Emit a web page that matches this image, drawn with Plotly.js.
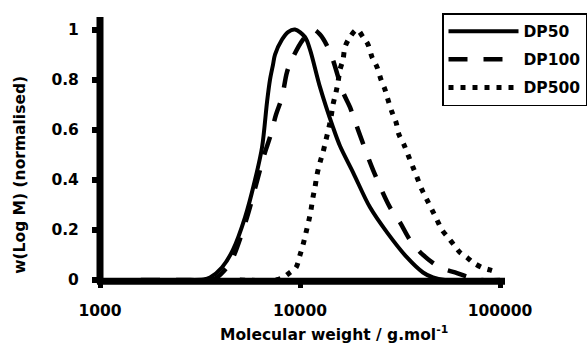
<!DOCTYPE html>
<html>
<head>
<meta charset="utf-8">
<script src="https://cdn.plot.ly/plotly-3.0.1.min.js"></script>
<style>html,body{margin:0;padding:0;background:#fff;}#chart{width:587px;height:343px;}</style>
</head>
<body>
<div id="chart"></div>
<script>
// DP50 (solid)
const dp50_M = [1600, 2500, 3300, 3550, 4070, 4620, 5310, 5960, 6460, 6840, 7080, 7330, 7500, 8130, 8710, 9440, 10590, 11220, 12590, 14620, 15850, 18410, 22390, 27230, 34280, 41210, 46240, 53090, 70000, 100000];
const dp50_w = [0, 0, 0.002, 0.01, 0.05, 0.12, 0.25, 0.40, 0.53, 0.71, 0.80, 0.86, 0.90, 0.96, 0.99, 1.0, 0.97, 0.92, 0.77, 0.61, 0.535, 0.43, 0.29, 0.19, 0.09, 0.03, 0.01, 0, 0, 0];
// DP100 (dashed)
const dp100_M = [1600, 2500, 3500, 3760, 4315, 4624, 5433, 6166, 6683, 7079, 7586, 8128, 8610, 9226, 10350, 11610, 12590, 14130, 16410, 17780, 19500, 23170, 28180, 31620, 35480, 41210, 50120, 59570, 70790, 80000, 100000];
const dp100_w = [0, 0, 0, 0.005, 0.05, 0.09, 0.25, 0.41, 0.51, 0.57, 0.66, 0.73, 0.83, 0.89, 0.96, 1.0, 0.98, 0.91, 0.75, 0.69, 0.60, 0.44, 0.29, 0.23, 0.16, 0.10, 0.05, 0.03, 0.01, 0, 0];
// DP500 (dotted)
const dp500_M = [5000, 7500, 8220, 8910, 9550, 10000, 10350, 10720, 11090, 11350, 11610, 11885, 12160, 12590, 13030, 13490, 13960, 14290, 14620, 15140, 15490, 15850, 16410, 16790, 17780, 19280, 20650, 21880, 22910, 24270, 25410, 26610, 27540, 28840, 30200, 31260, 33110, 34670, 36730, 38460, 40740, 43150, 45710, 48420, 51290, 54950, 58880, 63100, 68390, 73280, 81280, 89130, 97720];
const dp500_w = [0, 0, 0.01, 0.03, 0.05, 0.10, 0.14, 0.19, 0.24, 0.28, 0.33, 0.37, 0.42, 0.47, 0.51, 0.56, 0.61, 0.65, 0.70, 0.75, 0.79, 0.84, 0.88, 0.93, 0.97, 1.0, 0.97, 0.94, 0.89, 0.85, 0.80, 0.76, 0.72, 0.67, 0.63, 0.58, 0.54, 0.50, 0.45, 0.41, 0.36, 0.32, 0.28, 0.24, 0.20, 0.17, 0.14, 0.11, 0.09, 0.07, 0.05, 0.04, 0.03];

const seriesNames = ['DP50', 'DP100', 'DP500'];
const xTickVals = [1000, 10000, 100000];
const xTickText = ['1000', '10000', '100000'];
const yTickVals = [0, 0.2, 0.4, 0.6, 0.8, 1];
const yTickText = ['0', '0.2', '0.4', '0.6', '0.8', '1'];

const FONT = 'DejaVu Sans, sans-serif';
const FS = 15.5;
const BOLD = {family: FONT, size: FS, color: '#000', weight: 'bold'};

const mk = (x, y, name, dash, width) => ({
  x: x, y: y, name: name, type: 'scatter', mode: 'lines',
  line: {color: '#000', width: width, dash: dash, shape: 'spline', smoothing: 0.9},
  legendgroup: name
});

const data = [
  mk(dp50_M, dp50_w, seriesNames[0], 'solid', 4),
  mk(dp100_M, dp100_w, seriesNames[1], '19px,16px', 4.5),
  mk(dp500_M, dp500_w, seriesNames[2], '5px,7px', 5)
];

const layout = {
  width: 587, height: 343,
  margin: {l: 100, r: 87, t: 17, b: 63, autoexpand: false},
  paper_bgcolor: '#fff', plot_bgcolor: '#fff',
  font: BOLD,
  showlegend: true,
  legend: {
    x: 0.855, y: 1.015, xanchor: 'left', yanchor: 'top',
    bordercolor: '#000', borderwidth: 1.5, bgcolor: '#fff',
    font: BOLD,
    itemwidth: 70, traceorder: 'grouped', tracegroupgap: 5
  },
  xaxis: {
    type: 'log', range: [3, 5],
    tickvals: xTickVals, ticktext: xTickText,
    showgrid: false, zeroline: false, showline: false,
    ticks: 'outside', ticklen: 7, tickwidth: 5, tickcolor: '#000',
    ticklabelstandoff: 9,
    tickfont: BOLD
  },
  yaxis: {
    range: [0, 1.05],
    tickvals: yTickVals, ticktext: yTickText,
    showgrid: false, zeroline: false, showline: false,
    ticks: 'outside', ticklen: 7, tickwidth: 6, tickcolor: '#000',
    ticklabelstandoff: 10,
    tickfont: BOLD
  },
  shapes: [
    {type: 'line', xref: 'paper', yref: 'paper', x0: 0, x1: 0, y0: -0.012, y1: 1.0, line: {color: '#000', width: 7}},
    {type: 'line', xref: 'paper', yref: 'paper', x0: -0.0075, x1: 1.0125, y0: -0.005, y1: -0.005, line: {color: '#000', width: 7}}
  ],
  annotations: [
    {text: 'Molecular weight / g.mol<sup>-1</sup>', xref: 'paper', yref: 'paper',
     x: 0.585, y: -0.205, xanchor: 'center', yanchor: 'middle', showarrow: false, font: BOLD},
    {text: 'w(Log M) (normalised)', xref: 'paper', yref: 'paper',
     x: -0.2, y: 0.4, xanchor: 'center', yanchor: 'middle', showarrow: false, textangle: -90, font: BOLD}
  ]
};

Plotly.newPlot('chart', data, layout, {displayModeBar: false, staticPlot: true});
</script>
</body>
</html>
